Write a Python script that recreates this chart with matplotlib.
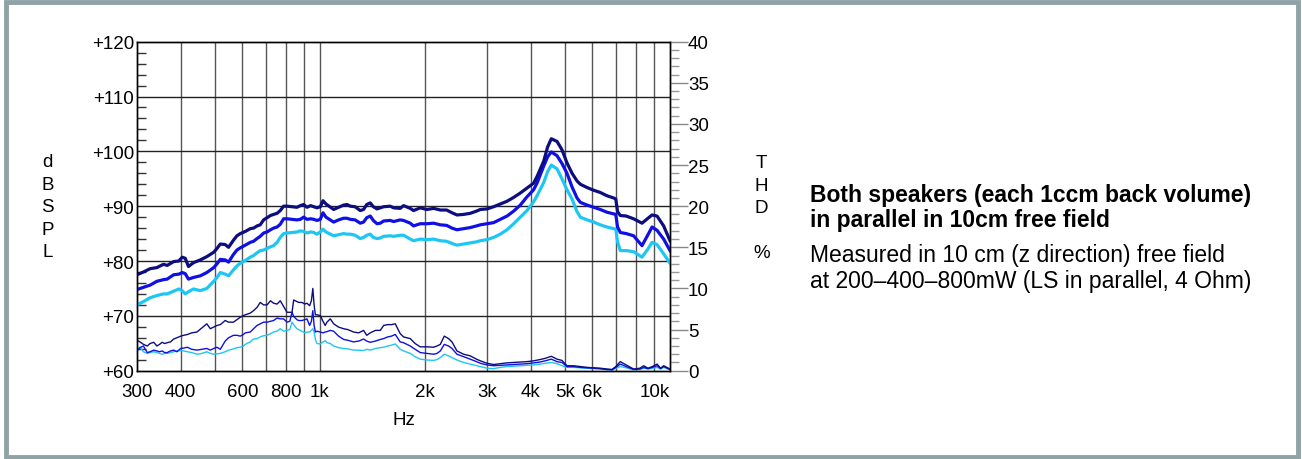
import numpy as np
import matplotlib
matplotlib.use("Agg")
import matplotlib.pyplot as plt
from matplotlib.patches import Rectangle
from matplotlib.ticker import FixedLocator, MultipleLocator, NullFormatter

plt.rcParams["font.family"] = ["Liberation Sans", "DejaVu Sans"]

# ---------------- data ----------------
f_spl = [300, 313, 327, 342, 357, 366, 382, 395, 404, 412, 421, 435, 455, 475, 497, 508, 519, 536, 548, 566,
         579, 592, 612, 632, 646, 661, 675, 690, 706, 722, 737, 754, 770, 787, 805, 832, 859, 879, 898, 918,
         940, 960, 980, 1002, 1020, 1040, 1094, 1130, 1168, 1194, 1221, 1260, 1303, 1332, 1360, 1392, 1420,
         1455, 1487, 1520, 1588, 1623, 1695, 1733, 1811, 1850, 1934, 2021, 2112, 2207, 2300, 2383, 2462, 2572,
         2687, 2800, 2871, 3000, 3133, 3275, 3423, 3575, 3735, 3902, 4077, 4169, 4356, 4470, 4580, 4756, 4912,
         5077, 5250, 5424, 5544, 5795, 6055, 6320, 6605, 6901, 7000, 7082, 7211, 7500, 7870, 8318, 8650, 8886,
         9183, 9591, 10000]

spl_800 = [77.5, 78.0, 78.6, 78.8, 79.4, 79.2, 79.9, 80.0, 80.7, 80.5, 79.0, 79.7, 80.2, 80.8, 81.6, 82.3, 83.1,
           83.0, 82.5, 83.8, 84.6, 85.0, 85.4, 85.9, 86.0, 86.4, 86.6, 87.5, 87.9, 88.3, 88.5, 88.7, 89.2, 90.0,
           90.0, 89.9, 89.8, 90.1, 90.3, 89.8, 90.1, 89.9, 89.7, 89.9, 91.0, 90.4, 89.4, 89.8, 90.2, 90.3, 90.0,
           89.9, 89.2, 89.4, 90.3, 90.6, 89.9, 89.5, 89.7, 89.9, 90.0, 89.7, 89.6, 90.1, 89.6, 89.2, 89.7, 89.4,
           89.6, 89.3, 89.3, 88.8, 88.4, 88.5, 88.7, 89.1, 89.4, 89.5, 89.9, 90.4, 90.9, 91.6, 92.4, 93.3, 94.2,
           95.4, 98.2, 100.8, 102.3, 101.8, 100.3, 97.9, 96.0, 94.6, 94.0, 93.4, 92.9, 92.5, 91.9, 91.5, 91.3,
           89.0, 88.3, 88.2, 87.7, 86.9, 87.8, 88.4, 88.2, 86.4, 83.7]

spl_400 = [74.8, 75.2, 75.6, 76.3, 76.6, 76.7, 77.5, 77.6, 77.9, 77.7, 76.7, 77.0, 77.3, 77.9, 78.8, 79.5, 80.3,
           80.2, 79.8, 81.2, 82.0, 82.4, 82.9, 83.4, 83.6, 84.1, 84.5, 85.1, 85.3, 85.7, 86.0, 86.2, 86.7, 87.7,
           87.7, 87.6, 87.5, 87.6, 88.0, 87.6, 87.7, 87.6, 87.4, 87.6, 88.8, 88.0, 87.1, 87.5, 87.8, 87.8, 87.6,
           87.5, 86.9, 87.1, 87.9, 88.2, 87.4, 86.8, 86.9, 87.3, 87.4, 87.2, 87.5, 87.4, 86.9, 86.4, 86.8, 86.8,
           86.9, 86.6, 86.5, 86.0, 85.7, 85.9, 86.1, 86.4, 86.6, 86.8, 87.0, 87.6, 88.2, 89.1, 90.2, 91.7, 93.0,
           94.2, 97.3, 99.0, 99.9, 99.2, 97.8, 96.0, 93.5, 91.5, 90.7, 90.2, 89.8, 89.4, 88.9, 88.6, 88.5,
           86.2, 85.2, 85.0, 84.6, 82.8, 84.8, 86.2, 85.6, 84.0, 81.9]

spl_200 = [72.0, 72.6, 73.3, 73.7, 74.0, 74.0, 74.5, 74.9, 74.6, 74.0, 74.4, 74.9, 74.6, 75.0, 76.3, 77.0, 77.9,
           77.6, 77.3, 78.4, 79.1, 79.6, 80.1, 80.7, 81.0, 81.5, 81.9, 82.0, 82.3, 82.6, 82.8, 83.4, 84.3, 85.0,
           85.1, 85.2, 85.3, 85.5, 85.4, 85.1, 85.3, 85.2, 84.9, 85.3, 85.8, 85.3, 84.6, 84.8, 85.0, 84.9, 84.9,
           84.7, 84.1, 84.3, 84.7, 84.9, 84.3, 84.1, 84.2, 84.5, 84.6, 84.5, 84.7, 84.7, 84.0, 83.7, 84.0, 83.9,
           84.0, 83.7, 83.6, 83.2, 82.9, 83.1, 83.3, 83.5, 83.7, 83.9, 84.3, 84.9, 85.7, 86.8, 88.0, 89.2, 90.8,
           91.9, 94.3, 96.3, 97.5, 96.8, 95.0, 93.0, 91.3, 89.0, 88.0, 87.5, 87.1, 86.6, 86.2, 85.9, 85.8,
           83.5, 81.9, 81.9, 81.7, 80.7, 82.2, 83.4, 83.0, 81.3, 79.6]

f_thd = [300, 306, 313, 321, 327, 335, 342, 348, 354, 360, 366, 374, 382, 390, 400, 408, 418, 430, 445, 460, 475,
         486, 497, 508, 519, 536, 548, 566, 579, 592, 604, 612, 632, 646, 661, 675, 690, 706, 722, 737, 754, 770,
         787, 805, 820, 832, 841, 859, 869, 888, 905, 918, 934, 945, 954, 962, 970, 980, 1002, 1020, 1035, 1047,
         1070, 1094, 1130, 1168, 1200, 1247, 1290, 1332, 1360, 1392, 1440, 1487, 1520, 1560, 1600, 1641, 1695,
         1733, 1811, 1870, 1934, 2021, 2112, 2159, 2207, 2265, 2330, 2383, 2462, 2572, 2687, 2800, 2871, 3000,
         3133, 3275, 3423, 3575, 3735, 3902, 4077, 4250, 4400, 4580, 4756, 4912, 5077, 5300, 5544, 5800, 6055,
         6320, 6605, 6828, 7000, 7211, 7500, 7870, 8200, 8412, 8650, 8900, 9183, 9400, 9591, 10000]

thd_800 = [3.7, 3.5, 3.2, 3.0, 3.3, 3.45, 3.0, 3.2, 3.45, 3.3, 3.4, 3.5, 3.85, 4.0, 4.2, 4.3, 4.4, 4.6, 4.7, 5.2,
           5.7, 5.1, 5.3, 5.5, 5.6, 6.1, 5.9, 5.9, 6.2, 6.5, 6.7, 6.8, 7.0, 7.3, 7.7, 8.3, 8.0, 8.0, 8.5, 8.2,
           8.1, 8.5, 7.8, 7.1, 7.1, 7.1, 8.6, 8.4, 8.3, 8.3, 8.1, 8.2, 7.9, 8.5, 10.0, 8.0, 6.8, 6.8, 6.7, 6.0,
           5.5, 5.9, 6.3, 5.7, 5.3, 5.1, 5.0, 4.7, 4.6, 4.9, 4.3, 4.6, 4.9, 4.9, 5.5, 5.6, 5.6, 5.7, 4.5, 4.1,
           3.9, 3.3, 2.9, 2.9, 2.85, 3.0, 3.2, 4.2, 3.9, 3.5, 2.4, 2.0, 1.8, 1.4, 1.2, 0.9, 0.75, 0.85, 0.95,
           1.0, 1.05, 1.1, 1.2, 1.35, 1.5, 1.75, 1.4, 1.25, 0.6, 0.6, 0.5, 0.4, 0.35, 0.3, 0.2, 0.15, 0.5, 1.1,
           0.7, 0.2, 0.3, 0.6, 0.3, 0.5, 0.8, 0.3, 0.6, 0.2]

thd_400 = [2.4, 2.8, 3.0, 2.2, 2.3, 2.5, 2.4, 2.3, 2.4, 2.2, 2.2, 2.4, 2.5, 2.3, 2.7, 2.75, 2.85, 2.6, 2.5, 2.6,
           2.7, 2.5, 2.7, 2.85, 2.6, 3.6, 4.0, 4.3, 4.3, 4.2, 4.4, 4.6, 4.7, 5.1, 5.5, 5.7, 5.9, 5.9, 6.0, 6.1,
           6.4, 6.3, 6.3, 5.9, 6.0, 7.1, 6.6, 6.2, 6.1, 6.1, 6.2, 6.3, 5.5, 6.0, 7.3, 5.5, 4.7, 4.8, 4.7, 4.6,
           4.7, 4.75, 4.9, 4.8, 4.2, 3.8, 3.7, 3.5, 3.6, 3.85, 3.6, 3.45, 3.6, 3.8, 3.9, 4.1, 4.2, 4.4, 3.5,
           3.4, 3.0, 2.6, 2.2, 2.1, 2.0, 2.1, 2.4, 3.2, 3.0, 2.7, 2.0, 1.7, 1.4, 1.1, 0.9, 0.7, 0.6, 0.65, 0.7,
           0.75, 0.8, 0.85, 0.95, 1.05, 1.2, 1.4, 1.1, 1.0, 0.5, 0.5, 0.4, 0.35, 0.3, 0.25, 0.15, 0.1, 0.4, 0.8,
           0.5, 0.15, 0.2, 0.4, 0.25, 0.4, 0.6, 0.25, 0.5, 0.15]

thd_200 = [2.6, 2.85, 2.3, 2.1, 2.2, 2.3, 2.2, 2.1, 2.0, 2.1, 2.1, 2.2, 2.3, 2.4, 2.45, 2.4, 2.3, 2.2, 2.0, 2.1,
           2.3, 2.1, 2.0, 2.05, 2.1, 2.3, 2.5, 2.65, 2.8, 2.85, 3.0, 3.2, 3.5, 3.85, 3.9, 4.1, 4.25, 4.3, 4.5,
           4.7, 4.8, 5.1, 4.8, 4.9, 5.0, 5.9, 5.6, 5.1, 5.0, 4.8, 4.6, 4.7, 4.7, 4.9, 5.1, 4.7, 3.8, 3.3, 3.25,
           3.5, 3.65, 3.4, 3.3, 3.0, 2.8, 2.7, 2.65, 2.5, 2.5, 2.45, 2.6, 2.5, 2.7, 2.8, 2.85, 3.0, 3.1, 3.25,
           2.6, 2.4, 2.1, 1.7, 1.4, 1.3, 1.25, 1.35, 1.6, 2.0, 1.8, 1.6, 1.3, 1.0, 0.8, 0.6, 0.5, 0.3, 0.25,
           0.4, 0.5, 0.55, 0.6, 0.65, 0.7, 0.8, 0.9, 1.0, 0.85, 0.6, 0.4, 0.4, 0.35, 0.3, 0.25, 0.2, 0.1, 0.05,
           0.3, 0.5, 0.35, 0.1, 0.15, 0.3, 0.2, 0.3, 0.4, 0.2, 0.4, 0.1]

x_ticks = [300, 400, 600, 800, 1000, 2000, 3000, 4000, 5000, 6000, 10000]
x_ticklabels = ["300", "400", "600", "800", "1k", "2k", "3k", "4k", "5k", "6k", "10k"]
x_grid = [400, 500, 600, 700, 800, 900, 1000, 2000, 3000, 4000, 5000, 6000, 7000, 8000, 9000]

desc_bold = ["Both speakers (each 1ccm back volume)", "in parallel in 10cm free field"]
desc_normal = ["Measured in 10 cm (z direction) free field", "at 200\u2013400\u2013800mW (LS in parallel, 4 Ohm)"]

navy = "#0d0d80"
blue = "#1010e6"
cyan = "#1ec6f4"

# ---------------- figure ----------------
fig = plt.figure(figsize=(13.02, 4.6), dpi=100)
ax = fig.add_axes([0.1052, 0.192, 0.4094, 0.7152])
ax2 = ax.twinx()

ax.set_xscale("log")
ax.set_xlim(300, 10000)
ax.set_ylim(60, 120)
ax2.set_ylim(0, 40)

# grid
for g in x_grid:
    ax.axvline(g, color="#555555", lw=1.0, zorder=1)
for g in range(70, 120, 10):
    ax.axhline(g, color="#222222", lw=1.0, zorder=1)

# SPL (thick)
ax.plot(f_spl, spl_200, color=cyan, lw=2.3, zorder=3)
ax.plot(f_spl, spl_400, color=blue, lw=2.3, zorder=3)
ax.plot(f_spl, spl_800, color=navy, lw=2.3, zorder=3)

# THD (thin)
ax2.plot(f_thd, thd_200, color=cyan, lw=1.0)
ax2.plot(f_thd, thd_400, color=blue, lw=1.0)
ax2.plot(f_thd, thd_800, color=navy, lw=1.0)

# x ticks
ax.xaxis.set_major_locator(FixedLocator(x_ticks))
ax.xaxis.set_minor_locator(FixedLocator([]))
ax.set_xticklabels(x_ticklabels)
ax.xaxis.set_minor_formatter(NullFormatter())
ax.tick_params(axis="x", which="major", length=0, pad=9, labelsize=13.5)
ax.get_xticklabels()[-1].set_horizontalalignment("right")

# left y ticks
ax.set_yticks(range(60, 121, 10))
ax.set_yticklabels(["+%d" % v for v in range(60, 121, 10)])
ax.yaxis.set_minor_locator(MultipleLocator(2))
ax.tick_params(axis="y", which="major", direction="in", length=0, pad=2, labelsize=13.5)
ax.tick_params(axis="y", which="minor", direction="in", length=6.5, width=1, color="#333333")

# right y ticks
ax2.set_yticks(range(0, 41, 5))
ax2.yaxis.set_minor_locator(MultipleLocator(1))
ax2.tick_params(axis="y", which="major", direction="out", length=13, width=1, pad=0,
                labelsize=13.5, color="#888888")
ax2.tick_params(axis="y", which="minor", direction="out", length=6.8, width=1, color="#999999")

for a in (ax, ax2):
    for s in a.spines.values():
        s.set_linewidth(1.0)
        s.set_color("black")

# axis labels
ax.set_xlabel("Hz", fontsize=13.5, labelpad=8)
fig.text(0.0365, 0.548, "d\nB\nS\nP\nL", fontsize=13.5, ha="center", va="center", linespacing=1.42)
fig.text(0.585, 0.546, "T\nH\nD\n\n%", fontsize=13.5, ha="center", va="center", linespacing=1.42)

# description, one line at a time
fig.text(0.6221, 0.5615, desc_bold[0], fontsize=16.5, fontweight="bold", ha="left", va="baseline")
fig.text(0.6221, 0.5059, desc_bold[1], fontsize=16.5, fontweight="bold", ha="left", va="baseline")
fig.text(0.6221, 0.4311, desc_normal[0], fontsize=16.5, ha="left", va="baseline")
fig.text(0.6221, 0.3733, desc_normal[1], fontsize=16.5, ha="left", va="baseline")

# frame
fig.patches.append(Rectangle((0.0045, 0.005), 0.9925, 0.988, transform=fig.transFigure,
                             fill=False, edgecolor="#8fa2a6", lw=3.5))

fig.savefig("out.png", dpi=100)
plt.close(fig)
